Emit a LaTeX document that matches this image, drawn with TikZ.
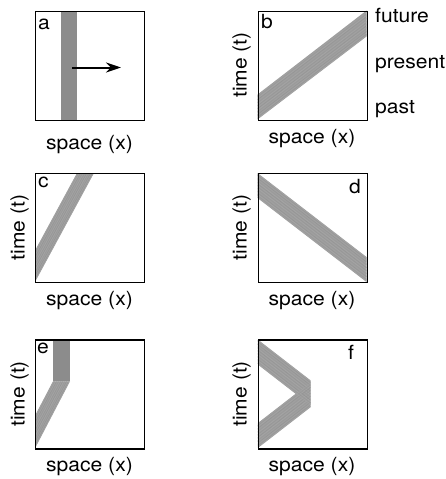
\documentclass[tikz,border=0pt]{standalone}
\usepackage{fontspec}
\setmainfont{TeX Gyre Heros}
\usetikzlibrary{arrows.meta}
\newcommand\wtxt[1]{\scalebox{1.08}[1]{#1}}
\def\streaks{0.04/35,0.09/41,0.15/36,0.2/42,0.26/37,0.31/40,0.37/35,0.43/42,0.49/36,0.55/41,0.61/35,0.67/40,0.73/37,0.79/42,0.85/35,0.9/40,0.96/36}
\tikzset{
  frame/.style={draw=black, line width=1.4pt, minimum width=109pt, minimum height=109pt, inner sep=0pt, anchor=north west},
  lbl/.style={font=\fontsize{19.5}{23}\selectfont, inner sep=0pt},
  tlbl/.style={lbl, rotate=90, anchor=base},
  bar/.style={fill=black!45},
  band/.style={fill=black!38},
  streak/.style={line width=0.45pt},
  arr/.style={line width=2pt, -{Stealth[length=15pt,width=10pt]}}
}
\begin{document}
\begin{tikzpicture}[x=1pt,y=-1pt]
\useasboundingbox (0,0) rectangle (446,479);

% ---------- panel a ----------
\begin{scope}[shift={(35,10.5)}]
  \fill[bar] (26,0) rectangle (42,109);
  \coordinate (a0) at (37,57);
  \coordinate (a1) at (86,57);
  \draw[arr] (a0) -- (a1);
  \node[frame] (pa) at (0,0) {};
  \node[lbl, anchor=base west] (la) at (3,18.5) {\wtxt{a}};
  \node[lbl, anchor=base] (sa) at (54.5,138.8) {\wtxt{space (x)}};
\end{scope}

% ---------- panel b ----------
\begin{scope}[shift={(257.5,10.5)}]
  \fill[band] (0,109) -- (109,26) -- (109,0) -- (0,84) -- cycle;
  \foreach \k/\c in \streaks {\draw[streak, black!\c] (0,{109-25*\k}) -- (109,{26-25*\k});}
  \node[frame] (pb) at (0,0) {};
  \node[lbl, anchor=base west] (lb) at (3.5,18) {\wtxt{b}};
  \node[tlbl] (tb) at (-11,54.5) {\wtxt{time (t)}};
  \node[lbl, anchor=base] (sb) at (54.5,133.3) {\wtxt{space (x)}};
  \node[lbl, anchor=base west] (fut) at (117.5,12) {\wtxt{future}};
  \node[lbl, anchor=base west] (pre) at (117.5,57.8) {\wtxt{present}};
  \node[lbl, anchor=base west] (pas) at (117.5,102.8) {\wtxt{past}};
\end{scope}

% ---------- panel c ----------
\begin{scope}[shift={(35,173)}]
  \begin{scope}
    \clip (0,0) rectangle (109,109);
    \fill[band] (0,109) -- (59,0) -- (42,0) -- (0,77.6) -- cycle;
    \foreach \k/\c in \streaks {\draw[streak, black!\c] ({59-17*\k},0) -- ({-17*\k},109);}
  \end{scope}
  \node[frame] (pc) at (0,0) {};
  \node[lbl, anchor=base west] (lc) at (3,14.3) {\wtxt{c}};
  \node[tlbl] (tc) at (-10.5,54.5) {\wtxt{time (t)}};
  \node[lbl, anchor=base] (sc) at (54.5,132) {\wtxt{space (x)}};
\end{scope}

% ---------- panel d ----------
\begin{scope}[shift={(257.5,173)}]
  \fill[band] (0,0) -- (109,84) -- (109,109) -- (0,25) -- cycle;
  \foreach \k/\c in \streaks {\draw[streak, black!\c] (0,{25*\k}) -- (109,{84+25*\k});}
  \node[frame] (pd) at (0,0) {};
  \node[lbl, anchor=base west] (ld) at (91.5,20.3) {\wtxt{d}};
  \node[tlbl] (td) at (-11,54.5) {\wtxt{time (t)}};
  \node[lbl, anchor=base] (sd) at (54.5,132) {\wtxt{space (x)}};
\end{scope}

% ---------- panel e ----------
\begin{scope}[shift={(35,339.3)}]
  \fill[bar] (18,0) rectangle (35,42);
  \begin{scope}
    \clip (0,0) rectangle (109,109);
    \fill[band] (0,109) -- (35,42) -- (18,42) -- (0,76.4) -- cycle;
    \foreach \k/\c in \streaks {\draw[streak, black!\c] ({35-17*\k},42) -- ({-17*\k},109);}
  \end{scope}
  \node[frame] (pe) at (0,0) {};
  \node[lbl, anchor=base west] (le) at (2,14) {\wtxt{e}};
  \node[tlbl] (te) at (-10.5,54.5) {\wtxt{time (t)}};
  \node[lbl, anchor=base] (se) at (54.5,132.3) {\wtxt{space (x)}};
\end{scope}

% ---------- panel f ----------
\begin{scope}[shift={(257.5,339.3)}]
  \begin{scope}
    \clip (0,0) -- (53,41) -- (53,68) -- (0,109) -- (0,84) -- (38.1,54.5) -- (0,25) -- cycle;
    \fill[band] (0,0) rectangle (60,109);
    \foreach \k/\c in \streaks {
      \draw[streak, black!\c] (0,{25*\k}) -- (70,{25*\k+54.2});
      \draw[streak, black!\c] (0,{109-25*\k}) -- (70,{54.8-25*\k});
    }
  \end{scope}
  \node[frame] (pf) at (0,0) {};
  \node[lbl, anchor=base west] (lf) at (90.5,20) {\wtxt{f}};
  \node[tlbl] (tf) at (-11,54.5) {\wtxt{time (t)}};
  \node[lbl, anchor=base] (sf) at (54.5,132.3) {\wtxt{space (x)}};
\end{scope}
\end{tikzpicture}
\end{document}
